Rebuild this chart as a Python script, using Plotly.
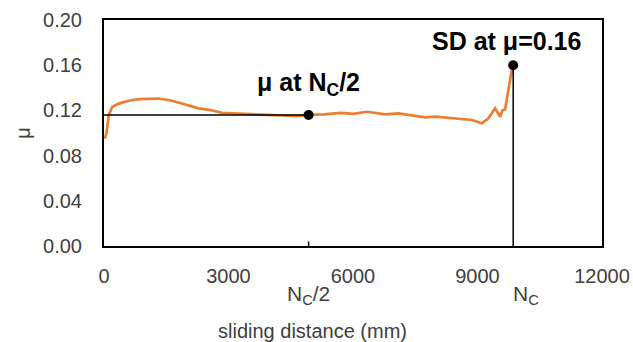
import plotly.graph_objects as go

# friction curve
distance_mm = [20, 60, 116, 197, 357, 598, 838, 1100, 1320, 1640, 1962, 2283, 2564, 2845, 3125,
               3500, 3900, 4300, 4650, 4930, 5300, 5700, 6000, 6335, 6776, 7097, 7498, 7739,
               8000, 8221, 8541, 8862, 9000, 9104, 9264, 9424, 9545, 9600, 9665, 9745, 9825, 9860]
mu = [0.095, 0.100, 0.116, 0.123, 0.126, 0.1285, 0.130, 0.1305, 0.1305, 0.1285, 0.1253, 0.1218,
      0.1203, 0.1178, 0.1174, 0.1165, 0.1160, 0.1155, 0.1150, 0.1160, 0.1165, 0.1178, 0.1170,
      0.1188, 0.1165, 0.1173, 0.1152, 0.1138, 0.1145, 0.1138, 0.1130, 0.1115, 0.1100, 0.1085,
      0.1130, 0.1218, 0.1144, 0.1200, 0.1210, 0.1400, 0.1555, 0.1608]

N_C = 9860
mu_half = 0.116
mu_sd = 0.16

x_ticks = [0, 3000, 6000, 9000, 12000]
y_ticks = [0.00, 0.04, 0.08, 0.12, 0.16, 0.20]

orange = "#ED7D31"
fig = go.Figure()
fig.add_trace(go.Scatter(x=distance_mm, y=mu, mode="lines",
                         line=dict(color=orange, width=2.7), hoverinfo="skip"))
# horizontal guide to mu at N_C/2
fig.add_trace(go.Scatter(x=[-160, N_C / 2], y=[mu_half, mu_half], mode="lines",
                         line=dict(color="black", width=1.5), cliponaxis=False))
# vertical guide from SD point
fig.add_trace(go.Scatter(x=[N_C, N_C], y=[mu_sd, -0.022], mode="lines",
                         line=dict(color="black", width=1.5), cliponaxis=False))
# tick at N_C/2
fig.add_trace(go.Scatter(x=[N_C / 2, N_C / 2], y=[0.004, -0.022], mode="lines",
                         line=dict(color="black", width=1.5), cliponaxis=False))
fig.add_trace(go.Scatter(x=[N_C / 2, N_C], y=[mu_half, mu_sd], mode="markers",
                         marker=dict(color="black", size=10), cliponaxis=False))

font = "Liberation Sans, Arial, sans-serif"
fig.update_layout(
    width=633, height=342,
    margin=dict(l=103.5, r=31, t=19.5, b=95.5),
    paper_bgcolor="white", plot_bgcolor="white",
    showlegend=False,
    font=dict(family=font, color="#404040", size=20),
    xaxis=dict(range=[0, 12000], tickvals=x_ticks, ticktext=[str(v) for v in x_ticks],
               showgrid=False, zeroline=False, showline=True, linecolor="black",
               linewidth=2, mirror=True, ticks="", ticklabelstandoff=11, automargin=False,
               tickfont=dict(size=20, color="#404040")),
    yaxis=dict(range=[0, 0.20], tickvals=y_ticks, ticktext=[f"{v:.2f}" for v in y_ticks],
               showgrid=False, zeroline=False, showline=True, linecolor="black",
               linewidth=2, mirror=True, ticks="", ticklabelstandoff=16, automargin=False,
               tickfont=dict(size=20, color="#404040")),
)

ann = [
    dict(x=N_C / 2, y=0.143, xref="x", yref="y", text="<b>μ at N<sub>C</sub>/2</b>",
         showarrow=False, font=dict(size=25, color="black"), xanchor="center", yanchor="middle"),
    dict(x=N_C, y=0.181, xref="x", yref="y", text="<b>SD at μ=0.16</b>", xshift=-7,
         showarrow=False, font=dict(size=25, color="black"), xanchor="center", yanchor="middle"),
    dict(x=N_C / 2, y=-0.218, xref="x", yref="paper", text="N<sub>C</sub>/2",
         showarrow=False, font=dict(size=21, color="#404040"), xanchor="center", yanchor="middle"),
    dict(x=N_C, y=-0.218, xref="x", yref="paper", text="N<sub>C</sub>",
         showarrow=False, font=dict(size=21, color="#404040"), xanchor="left", yanchor="middle",
         xshift=-2),
    dict(x=0.418, y=-0.374, xref="paper", yref="paper", text="sliding distance (mm)",
         showarrow=False, font=dict(size=20, color="#404040"), xanchor="center", yanchor="middle"),
    dict(x=-0.163, y=0.5, xref="paper", yref="paper", text="μ", textangle=-90,
         showarrow=False, font=dict(size=20, color="#404040"), xanchor="center", yanchor="middle"),
]
fig.update_layout(annotations=ann)

fig.write_html("out.html", config={"displayModeBar": False},
               post_script="document.body.style.margin='0';")
